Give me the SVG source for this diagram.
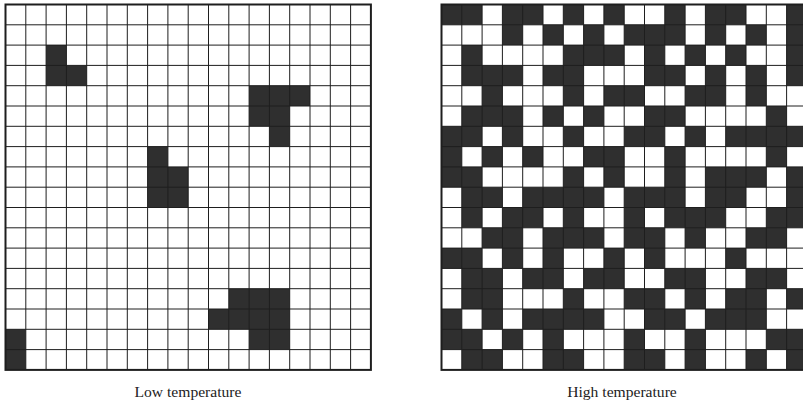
<svg xmlns="http://www.w3.org/2000/svg" width="803" height="407" viewBox="0 0 803 407">
<style>
.cells{fill:#2f2f2f;stroke:none}
.lines{fill:none;stroke:#1e1e1e;stroke-width:1}
.frame{fill:none;stroke:#1e1e1e;stroke-width:2}
.lbl{font-family:"Liberation Serif","Times New Roman",serif;font-size:15.6px;fill:#222;text-anchor:middle}
</style>
<defs>
<path id="gridlines" d="M20.3 0v365.4M40.6 0v365.4M60.9 0v365.4M81.2 0v365.4M101.5 0v365.4M121.8 0v365.4M142.1 0v365.4M162.4 0v365.4M182.7 0v365.4M203 0v365.4M223.3 0v365.4M243.6 0v365.4M263.9 0v365.4M284.2 0v365.4M304.5 0v365.4M324.8 0v365.4M345.1 0v365.4M0 20.3h365.4M0 40.6h365.4M0 60.9h365.4M0 81.2h365.4M0 101.5h365.4M0 121.8h365.4M0 142.1h365.4M0 162.4h365.4M0 182.7h365.4M0 203h365.4M0 223.3h365.4M0 243.6h365.4M0 263.9h365.4M0 284.2h365.4M0 304.5h365.4M0 324.8h365.4M0 345.1h365.4"/>
</defs>
<rect width="803" height="407" fill="#fff"/>
<g id="low-grid">
<path class="cells" transform="translate(5.5 4.5) scale(20.3)" d="M2 2h1v1h-1z M2 3h2v1h-2z M12 4h3v1h-3z M12 5h2v1h-2z M13 6h1v1h-1z M7 7h1v1h-1z M7 8h2v1h-2z M7 9h2v1h-2z M11 14h3v1h-3z M10 15h4v1h-4z M0 16h1v1h-1z M12 16h2v1h-2z M0 17h1v1h-1z"/>
<use href="#gridlines" class="lines" x="5.5" y="4.5"/>
<rect class="frame" x="5.5" y="4.5" width="365.4" height="365.4"/>
</g>
<g id="high-grid">
<path class="cells" transform="translate(441.5 4.5) scale(20.3)" d="
M0 0h2v1h-2z M3 0h2v1h-2z M6 0h1v1h-1z M8 0h1v1h-1z M11 0h1v1h-1z M13 0h2v1h-2z M17 0h1v1h-1z
M3 1h1v1h-1z M5 1h1v1h-1z M7 1h1v1h-1z M9 1h3v1h-3z M13 1h1v1h-1z M15 1h1v1h-1z M17 1h1v1h-1z
M1 2h1v1h-1z M6 2h3v1h-3z M10 2h1v1h-1z M12 2h1v1h-1z M14 2h1v1h-1z M17 2h1v1h-1z
M1 3h3v1h-3z M5 3h2v1h-2z M10 3h2v1h-2z M13 3h1v1h-1z M15 3h1v1h-1z M17 3h1v1h-1z
M2 4h1v1h-1z M6 4h1v1h-1z M8 4h2v1h-2z M12 4h2v1h-2z M15 4h1v1h-1z
M1 5h3v1h-3z M5 5h1v1h-1z M7 5h1v1h-1z M10 5h2v1h-2z M16 5h1v1h-1z
M0 6h2v1h-2z M3 6h1v1h-1z M6 6h1v1h-1z M9 6h2v1h-2z M12 6h1v1h-1z M14 6h4v1h-4z
M0 7h1v1h-1z M2 7h1v1h-1z M4 7h1v1h-1z M7 7h2v1h-2z M11 7h1v1h-1z M16 7h1v1h-1z
M0 8h2v1h-2z M6 8h1v1h-1z M8 8h1v1h-1z M11 8h1v1h-1z M13 8h3v1h-3z M17 8h1v1h-1z
M1 9h2v1h-2z M4 9h4v1h-4z M9 9h3v1h-3z M13 9h2v1h-2z M17 9h1v1h-1z
M1 10h1v1h-1z M3 10h2v1h-2z M6 10h1v1h-1z M9 10h1v1h-1z M11 10h3v1h-3z M16 10h2v1h-2z
M2 11h2v1h-2z M5 11h3v1h-3z M9 11h2v1h-2z M12 11h1v1h-1z M15 11h2v1h-2z
M0 12h2v1h-2z M3 12h1v1h-1z M5 12h1v1h-1z M8 12h1v1h-1z M10 12h1v1h-1z M14 12h1v1h-1z
M1 13h2v1h-2z M4 13h2v1h-2z M7 13h2v1h-2z M11 13h2v1h-2z M15 13h2v1h-2z
M1 14h2v1h-2z M6 14h1v1h-1z M9 14h2v1h-2z M12 14h1v1h-1z M14 14h2v1h-2z M17 14h1v1h-1z
M0 15h1v1h-1z M2 15h1v1h-1z M4 15h4v1h-4z M10 15h2v1h-2z M13 15h3v1h-3z
M0 16h2v1h-2z M3 16h1v1h-1z M5 16h1v1h-1z M9 16h1v1h-1z M12 16h1v1h-1z M16 16h2v1h-2z
M1 17h2v1h-2z M5 17h2v1h-2z M9 17h2v1h-2z M12 17h1v1h-1z M15 17h1v1h-1z M17 17h1v1h-1z"/>
<use href="#gridlines" class="lines" x="441.5" y="4.5"/>
<rect class="frame" x="441.5" y="4.5" width="365.4" height="365.4"/>
</g>
<text class="lbl" x="188" y="397">Low temperature</text>
<text class="lbl" x="622" y="397">High temperature</text>
</svg>
